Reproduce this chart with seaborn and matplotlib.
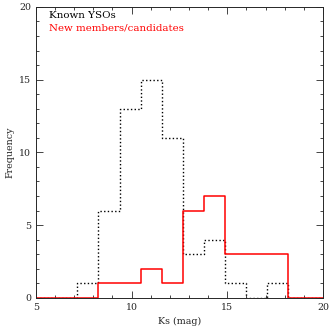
import numpy as np
import seaborn as sns
import matplotlib.pyplot as plt
from matplotlib.ticker import MultipleLocator

# Ks histogram bin edges (mag) and counts
edges = [5.0, 7.17, 8.27, 9.37, 10.47, 11.57, 12.67, 13.77, 14.87, 15.97, 17.07, 18.17, 20.0]
known_counts = [0, 1, 6, 13, 15, 11, 3, 4, 1, 0, 1, 0]
new_counts = [0, 0, 1, 1, 2, 1, 6, 7, 3, 3, 3, 0]

centers = [(a + b) / 2 for a, b in zip(edges[:-1], edges[1:])]

sns.set_style("ticks")
plt.rcParams['font.family'] = ['DejaVu Serif']

fig = plt.figure(figsize=(3.32, 3.27), dpi=100)
ax = fig.add_axes([0.108, 0.089, 0.865, 0.89])

sns.histplot(x=centers, weights=known_counts, bins=edges, element='step', fill=False,
             color='black', linestyle=':', linewidth=1.0, ax=ax)
sns.histplot(x=centers, weights=new_counts, bins=edges, element='step', fill=False,
             color='red', linewidth=1.1, ax=ax)

ax.set_xlim(5, 20)
ax.set_ylim(0, 20)
ax.xaxis.set_major_locator(MultipleLocator(5))
ax.xaxis.set_minor_locator(MultipleLocator(1))
ax.yaxis.set_major_locator(MultipleLocator(5))
ax.yaxis.set_minor_locator(MultipleLocator(1))
ax.tick_params(which='both', direction='in', top=True, right=True, labelsize=6.8, width=0.6)
ax.tick_params(which='major', length=5)
ax.tick_params(which='minor', length=2.5)
for s in ax.spines.values():
    s.set_linewidth(0.7)

ax.set_xlabel('Ks (mag)', fontsize=6.8, labelpad=4)
ax.set_ylabel('Frequency', fontsize=6.8, labelpad=3)

ax.text(5.7, 19.4, 'Known YSOs', color='black', fontsize=7.4, va='center')
ax.text(5.7, 18.55, 'New members/candidates', color='red', fontsize=7.4, va='center')

fig.savefig('out.png', dpi=100)
